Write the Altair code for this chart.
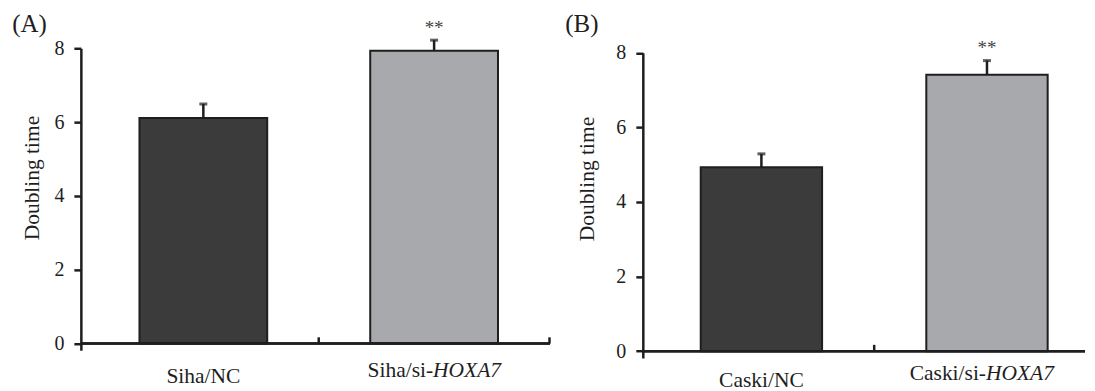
import altair as alt
import pandas as pd

# ---- data ----
cats_a = ["Siha/NC", "Siha/si-HOXA7"]
vals_a = [6.11, 7.93]
errs_a = [0.38, 0.29]
plain_a = ["Siha/NC", "Siha/si-"]
ital_a = ["", "HOXA7"]

cats_b = ["Caski/NC", "Caski/si-HOXA7"]
vals_b = [4.93, 7.41]
errs_b = [0.36, 0.38]
plain_b = ["Caski/NC", "Caski/si-"]
ital_b = ["", "HOXA7"]

sig = ["", "**"]
fills = ["#3b3b3b", "#a8a9ad"]
y_ticks = [0, 2, 4, 6, 8]
y_domain = [-0.18, 8]

FONT = "Liberation Serif"
INK = "#1e1e1e"
LABEL_SIZE = 21.5


def panel(cats, vals, errs, plain, ital, title, width, height, y_range,
          x_range, bar_frac, title_dx, title_y, ytitle_x, ytitle_y,
          nc_dy, hox_dy, star_dy, right_tick):
    df = pd.DataFrame({
        "cat": cats,
        "val": vals,
        "top": [v + e for v, e in zip(vals, errs)],
        "sig": sig,
        "plain": plain,
        "ital": ital,
    })
    xs = alt.Scale(domain=cats, paddingInner=0, paddingOuter=0, range=x_range)
    x = alt.X("cat:N", scale=xs, axis=None, sort=cats)
    ys = alt.Scale(domain=y_domain, nice=False, zero=False, range=y_range)
    base = alt.Chart(df)

    bars = base.mark_bar(stroke=INK, strokeWidth=2,
                         width=alt.RelativeBandSize(bar_frac)).encode(
        x=x,
        y=alt.Y("val:Q", scale=ys, axis=alt.Axis(
            values=y_ticks, title="Doubling time", grid=False,
            titleFont=FONT, titleFontSize=LABEL_SIZE, titleFontWeight="normal",
            titleColor=INK, titleAngle=-90, titleX=ytitle_x, titleY=ytitle_y,
            titleAlign="center", titleBaseline="middle",
            labelFont=FONT, labelFontSize=20, labelColor=INK, labelPadding=10,
            tickSize=7, tickWidth=2.5, tickColor=INK,
            domainColor=INK, domainWidth=2.5)),
        y2=alt.datum(0),
        color=alt.Color("cat:N", scale=alt.Scale(domain=cats, range=fills),
                        legend=None),
    )
    baseline = base.mark_rule(color=INK, strokeWidth=2.5).encode(
        y=alt.datum(0))
    err = base.mark_rule(color=INK, strokeWidth=2.5).encode(
        x=x, y=alt.Y("val:Q"), y2="top:Q")
    cap = base.mark_tick(color=INK, thickness=3, size=8).encode(
        x=x, y=alt.Y("top:Q"))
    stars = base.mark_text(font=FONT, fontSize=19, color="#444",
                           baseline="alphabetic", dy=star_dy).encode(
        x=x, y=alt.Y("top:Q"), text="sig:N")
    mid_tick = base.transform_filter(alt.datum.cat == cats[1]).mark_rule(
        color=INK, strokeWidth=2.5).encode(
        x=alt.X("cat:N", scale=xs, axis=None, bandPosition=0),
        y=alt.datum(0), y2=alt.datum(0.17))
    layers = [bars, baseline, err, cap, stars, mid_tick]
    if right_tick:
        layers.append(base.transform_filter(alt.datum.cat == cats[1]).mark_rule(
            color=INK, strokeWidth=2.5).encode(
            x=alt.X("cat:N", scale=xs, axis=None, bandPosition=1),
            y=alt.datum(0), y2=alt.datum(0.17)))
    lab_c = base.transform_filter(alt.datum.ital == "").mark_text(
        font=FONT, fontSize=LABEL_SIZE, color=INK, align="center",
        baseline="alphabetic", dy=nc_dy).encode(
        x=x, y=alt.datum(0), text="plain:N")
    lab_p = base.transform_filter(alt.datum.ital != "").mark_text(
        font=FONT, fontSize=LABEL_SIZE, color=INK, align="right",
        baseline="alphabetic", dy=hox_dy, dx=-1).encode(
        x=x, y=alt.datum(0), text="plain:N")
    lab_i = base.transform_filter(alt.datum.ital != "").mark_text(
        font=FONT, fontSize=LABEL_SIZE, color=INK, align="left",
        fontStyle="italic", baseline="alphabetic", dy=hox_dy, dx=-1).encode(
        x=x, y=alt.datum(0), text="ital:N")
    panel_label = alt.Chart(pd.DataFrame({"t": [title]})).mark_text(
        font=FONT, fontSize=25, color=INK, align="left",
        baseline="alphabetic").encode(
        x=alt.value(title_dx), y=alt.value(title_y), text="t:N")
    layers += [lab_c, lab_p, lab_i, panel_label]
    return alt.layer(*layers).properties(width=width, height=height)


pa = panel(cats_a, vals_a, errs_a, plain_a, ital_a, "(A)", 470, 302.5,
           [302.5, 0], [7.1, 469.5], 0.5536, -68.7, -16.5, -48.7, 129.5,
           39.5, 33, -6, True)
pb = panel(cats_b, vals_b, errs_b, plain_b, ital_b, "(B)", 443, 310.2,
           [310.2, 4.5], [5.8, 457.8], 0.538, -77.7, -16.5, -55.7, 130.5,
           36, 28.5, -7, False)

chart = alt.hconcat(pa, pb, spacing=13).properties(
    padding={"left": 4, "top": 3, "right": 0, "bottom": 0},
    background="white",
).configure_view(stroke=None)

chart.save("out.html", embed_options={"renderer": "svg", "actions": False})
